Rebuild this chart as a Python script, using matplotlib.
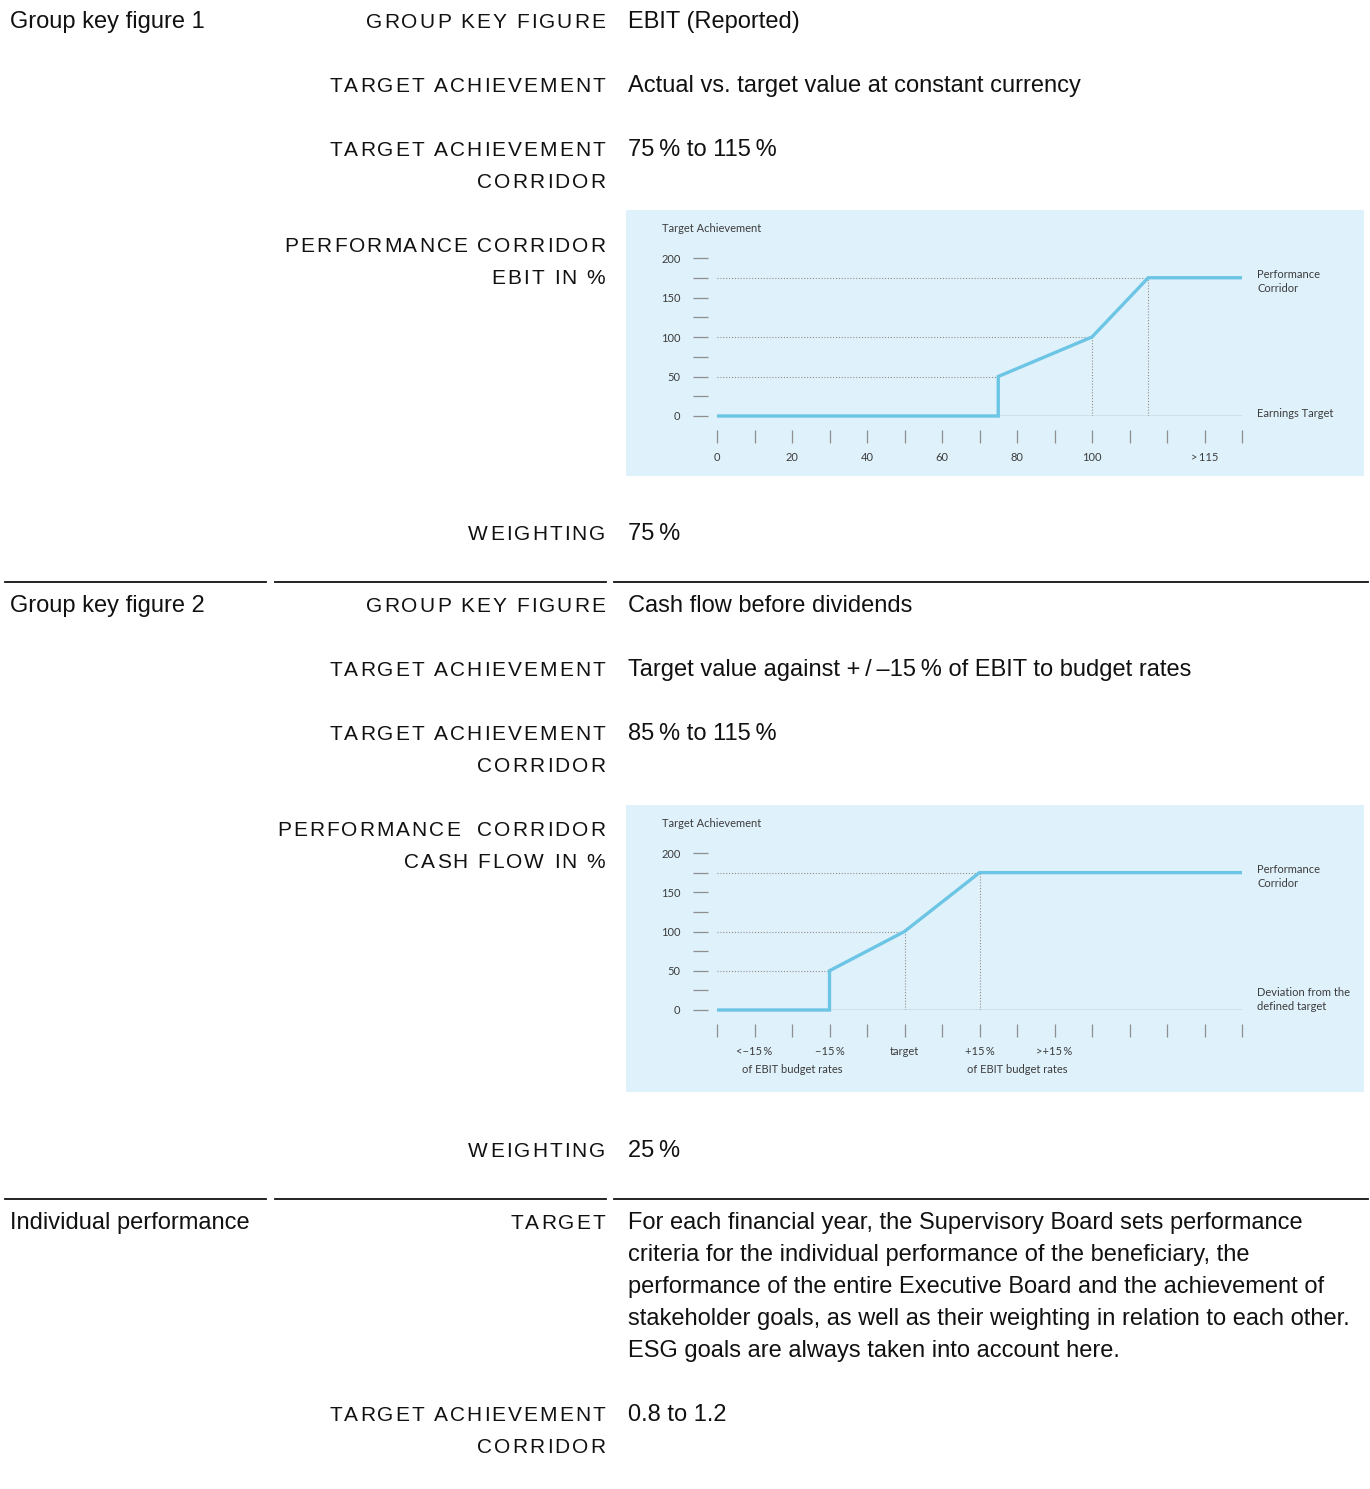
import numpy as np
import matplotlib
matplotlib.use("Agg")
import matplotlib.pyplot as plt
from matplotlib.lines import Line2D
from matplotlib.patches import Rectangle
from matplotlib.font_manager import FontProperties

W, H, DPI = 1370, 1489, 100

plt.rcParams['font.family'] = ['Liberation Sans', 'DejaVu Sans']

TEXT = "#111111"
BOX = "#dff1fa"
LINE = "#6cc5e5"
GUIDE = "#8f8f8f"
CHART_TEXT = "#3c3c3c"
CHART_FONT = ['Lato', 'DejaVu Sans']
BODY = 17

# Table text
group_titles = ["Group key figure 1", "Group key figure 2", "Individual performance"]

labels_1 = [["GROUP KEY FIGURE"], ["TARGET ACHIEVEMENT"],
            ["TARGET ACHIEVEMENT", "CORRIDOR"],
            ["PERFORMANCE CORRIDOR", "EBIT IN %"], ["WEIGHTING"]]
values_1 = ["EBIT (Reported)",
            "Actual vs. target value at constant currency",
            "75\u2009% to 115\u2009%", "", "75\u2009%"]

labels_2 = [["GROUP KEY FIGURE"], ["TARGET ACHIEVEMENT"],
            ["TARGET ACHIEVEMENT", "CORRIDOR"],
            ["PERFORMANCE  CORRIDOR", "CASH FLOW IN %"], ["WEIGHTING"]]
values_2 = ["Cash flow before dividends",
            "Target value against +\u2009/\u2009\u201315\u2009% of EBIT to budget rates",
            "85\u2009% to 115\u2009%", "", "25\u2009%"]

labels_3 = [["TARGET"], ["TARGET ACHIEVEMENT", "CORRIDOR"]]
values_3 = ["For each financial year, the Supervisory Board sets performance\n"
            "criteria for the individual performance of the beneficiary, the\n"
            "performance of the entire Executive Board and the achievement of\n"
            "stakeholder goals, as well as their weighting in relation to each other.\n"
            "ESG goals are always taken into account here.",
            "0.8 to 1.2"]

# Chart 1: EBIT performance corridor
ebit_x = [0, 75, 75, 100, 115, 140]
ebit_y = [0, 0, 50, 100, 175, 175]
ebit_ticks = [0, 20, 40, 60, 80, 100, 130]
ebit_ticklabels = ["0", "20", "40", "60", "80", "100", ">\u2009115"]

# Chart 2: cash flow performance corridor
cf_x = [0, 30, 30, 50, 70, 140]
cf_y = [0, 0, 50, 100, 175, 175]
cf_ticks = [10, 30, 50, 70, 90]
cf_ticklabels = ["<\u221215\u2009%", "\u221215\u2009%", "target", "+15\u2009%", ">+15\u2009%"]
cf_sub_x = [20, 80]
cf_sub_labels = ["of EBIT budget rates", "of EBIT budget rates"]

y_major = [0, 50, 100, 150, 200]
y_minor = [25, 75, 125, 175]


def fx(x):
    return x / W


def fy(y):
    return 1 - y / H


fig = plt.figure(figsize=(W / DPI, H / DPI), dpi=DPI)
renderer = fig.canvas.get_renderer()


def spaced_text(x, y, s, size=15, track=2.0):
    # right aligned, letter spaced caps label
    prop = FontProperties(family='Liberation Sans', size=size)
    base = renderer.get_text_width_height_descent("HH", prop, ismath=False)[0]
    advs = [renderer.get_text_width_height_descent("H" + c + "H", prop, ismath=False)[0] - base
            for c in s]
    pos = x - sum(advs) - track * (len(s) - 1)
    for c, a in zip(s, advs):
        if c != " ":
            fig.text(fx(pos), fy(y), c, fontsize=size, ha="left", va="baseline", color=TEXT)
        pos += a + track


def section(title, labels, values, baselines):
    fig.text(fx(10), fy(baselines[0]), title, fontsize=BODY, va="baseline", color=TEXT)
    for lab, val, yb in zip(labels, values, baselines):
        for k, line in enumerate(lab):
            spaced_text(605, yb + 32 * k, line)
        if val:
            for k, line in enumerate(val.split("\n")):
                fig.text(fx(628), fy(yb + 32 * k), line, fontsize=BODY,
                         va="baseline", color=TEXT)


def chart(box_top, box_bottom, y0, y200, xs, ys, ticks, ticklabels, right_top, right_bottom):
    fig.add_artist(Rectangle((fx(626), fy(box_bottom)), (1364 - 626) / W,
                             (box_bottom - box_top) / H, transform=fig.transFigure,
                             facecolor=BOX, edgecolor="none", zorder=-1))
    ax = fig.add_axes([fx(717), fy(y0), (1242 - 717) / W, (y0 - y200) / H])
    ax.patch.set_visible(False)
    ax.set_xlim(0, 140)
    ax.set_ylim(0, 200)

    ax.axhline(0, color="#9c9c9c", lw=1.0, zorder=2)
    dots = dict(color=GUIDE, lw=0.8, linestyle=(0, (1, 1.6)), zorder=1)
    for i in (2, 3, 4):
        ax.plot([0, xs[i]], [ys[i], ys[i]], **dots)
    for i in (3, 4):
        ax.plot([xs[i], xs[i]], [0, ys[i]], **dots)
    ax.plot(xs, ys, color=LINE, lw=2.4, clip_on=False, zorder=3,
            solid_joinstyle="miter", solid_capstyle="butt")

    for s in ax.spines.values():
        s.set_visible(False)
    ax.spines["left"].set_position(("outward", 6.5))
    ax.spines["bottom"].set_position(("outward", 10))

    ax.set_yticks(y_major)
    ax.set_yticks(y_minor, minor=True)
    ax.set_xticks(ticks, ticklabels)
    ax.set_xticks(np.arange(0, 141, 10), minor=True)
    ax.tick_params(which="both", colors="#8f8f8f", labelcolor=CHART_TEXT,
                   labelsize=8, width=0.9)
    ax.tick_params(axis="y", which="both", length=10.8, pad=9.0)
    ax.tick_params(axis="x", which="both", length=9.4, pad=6.5)
    for lab in ax.get_xticklabels() + ax.get_yticklabels():
        lab.set_fontfamily(CHART_FONT)

    ax.annotate("Target Achievement", xy=(0, 200), xytext=(-39.6, 20.9),
                textcoords="offset points", ha="left", va="center",
                fontsize=8, color=CHART_TEXT, family=CHART_FONT)
    ax.annotate(right_top, xy=(140, ys[-1]), xytext=(10.8, 6.5),
                textcoords="offset points", ha="left", va="top", linespacing=1.4,
                fontsize=8, color=CHART_TEXT, family=CHART_FONT, annotation_clip=False)
    ax.annotate(right_bottom[0], xy=(140, 0), xytext=(10.8, right_bottom[1]),
                textcoords="offset points", ha="left", va="center", linespacing=1.4,
                fontsize=8, color=CHART_TEXT, family=CHART_FONT, annotation_clip=False)
    return ax


section(group_titles[0], labels_1, values_1, [28, 92, 156, 252, 540])
section(group_titles[1], labels_2, values_2, [612, 676, 740, 836, 1157])
section(group_titles[2], labels_3, values_3, [1229, 1421])

chart(210, 476, 416, 258, ebit_x, ebit_y, ebit_ticks, ebit_ticklabels,
      "Performance\nCorridor", ("Earnings Target", 2))
ax2 = chart(805, 1092, 1010, 853, cf_x, cf_y, cf_ticks, cf_ticklabels,
            "Performance\nCorridor", ("Deviation from the\ndefined target", 7.5))
for x, lab in zip(cf_sub_x, cf_sub_labels):
    ax2.annotate(lab, xy=(x, 0), xycoords=("data", "axes fraction"), xytext=(0, -42.5),
                 textcoords="offset points", ha="center", va="center",
                 fontsize=8, color=CHART_TEXT, family=CHART_FONT)

# separator rules
for yl in (582, 1199):
    for a, b in ((5, 266), (275, 606), (614, 1368)):
        fig.add_artist(Line2D([fx(a), fx(b)], [fy(yl), fy(yl)], color=TEXT, lw=1.3))

fig.savefig("out.png", dpi=DPI)
